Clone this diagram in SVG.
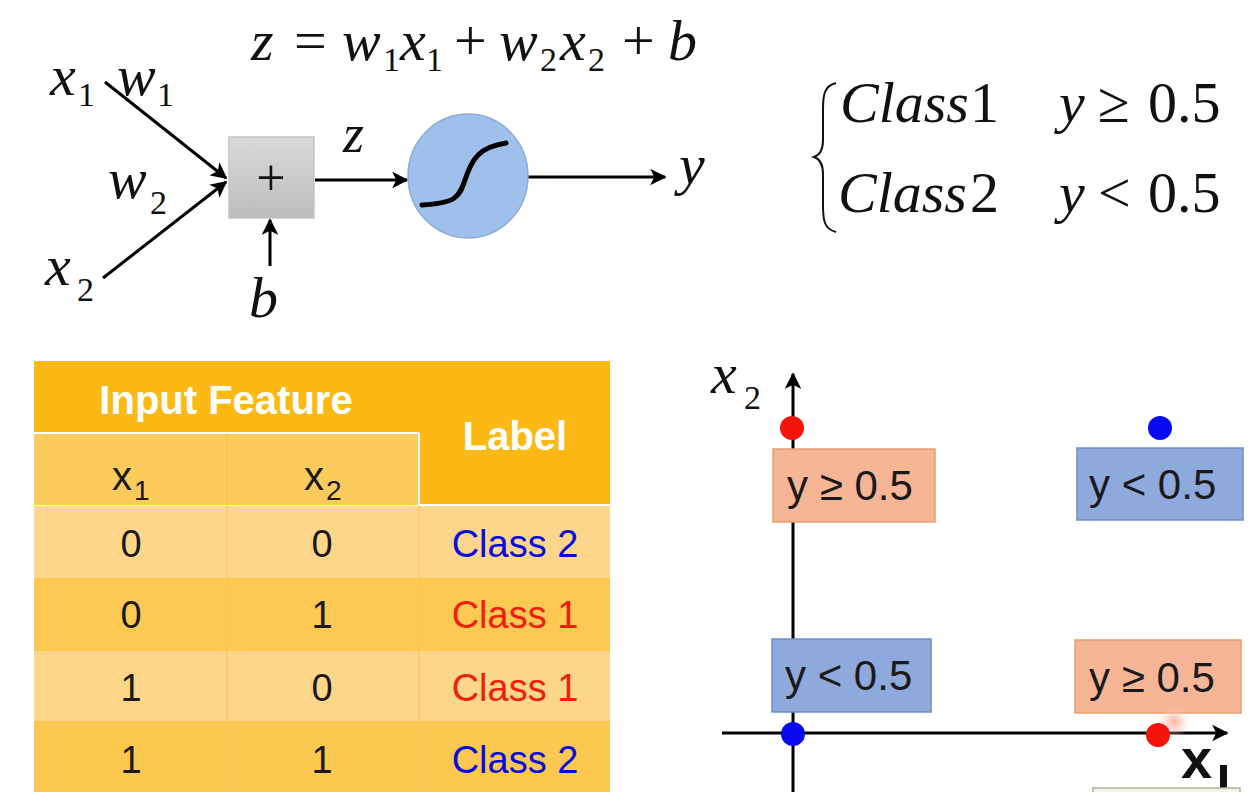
<svg xmlns="http://www.w3.org/2000/svg" width="1251" height="792" viewBox="0 0 1251 792">
<style>
.m{font-family:"Liberation Serif","Times New Roman",serif;fill:#111}
.i{font-style:italic}
.s{font-family:"Liberation Sans",Arial,sans-serif;fill:#1a1a1a}
.w{font-family:"Liberation Sans",Arial,sans-serif;font-weight:bold;fill:#fff}
.ln{stroke:#000;stroke-width:3;fill:none}
.tb{text-anchor:middle}
.or{fill:#F6B595;stroke:#E8A070;stroke-width:1.5}
.bl{fill:#8EA9DB;stroke:#6E8DC6;stroke-width:1.5}
</style>
<defs>
<marker id="ah" viewBox="0 0 10 10" refX="9" refY="5" markerWidth="5.5" markerHeight="5.5" orient="auto-start-reverse" markerUnits="strokeWidth">
<path d="M0,0 L10,5 L0,10 L2.5,5 z" fill="#000"/>
</marker>
<linearGradient id="gg" x1="0" y1="0" x2="0" y2="1">
<stop offset="0" stop-color="#dadada"/><stop offset="1" stop-color="#bcbcbc"/>
</linearGradient>
<radialGradient id="pk"><stop offset="0" stop-color="#f7a890" stop-opacity="0.9"/><stop offset="1" stop-color="#fbd0c0" stop-opacity="0"/></radialGradient>
</defs>
<rect width="1251" height="792" fill="#fff"/>

<g id="equation">
<text class="m" font-size="58" y="60"><tspan x="251" class="i">z</tspan><tspan x="294">=</tspan><tspan x="342" class="i">w</tspan><tspan x="383" dy="11" font-size="34">1</tspan><tspan x="400" dy="-11" class="i">x</tspan><tspan x="426" dy="11" font-size="34">1</tspan><tspan x="454" dy="-11">+</tspan><tspan x="499" class="i">w</tspan><tspan x="540" dy="11" font-size="34">2</tspan><tspan x="560" dy="-11" class="i">x</tspan><tspan x="588" dy="11" font-size="34">2</tspan><tspan x="622" dy="-11">+</tspan><tspan x="668" class="i">b</tspan></text>
</g>

<g id="connectors">
<line class="ln" x1="105" y1="82" x2="226" y2="178" marker-end="url(#ah)"/>
<line class="ln" x1="103" y1="278" x2="226" y2="182" marker-end="url(#ah)"/>
<line class="ln" x1="315" y1="180" x2="407" y2="180" marker-end="url(#ah)"/>
<line class="ln" x1="528" y1="177" x2="665" y2="177" marker-end="url(#ah)"/>
<line class="ln" x1="270" y1="266" x2="270" y2="220" marker-end="url(#ah)"/>
</g>

<g id="input-labels">
<text class="m" font-size="58" y="95"><tspan x="50" class="i">x</tspan><tspan x="78" dy="11" font-size="34">1</tspan></text>
<text class="m" font-size="58" y="95"><tspan x="117" class="i">w</tspan><tspan x="157" dy="11" font-size="34">1</tspan></text>
<text class="m" font-size="58" y="198"><tspan x="108" class="i">w</tspan><tspan x="150" dy="16" font-size="34">2</tspan></text>
<text class="m" font-size="58" y="285"><tspan x="45" class="i">x</tspan><tspan x="77" dy="16" font-size="34">2</tspan></text>
<text class="m i" font-size="54" x="343" y="152">z</text>
<text class="m i" font-size="58" x="249" y="317">b</text>
<text class="m i" font-size="58" x="679" y="184">y</text>
</g>

<g id="sum-node">
<rect x="229" y="137" width="85" height="81" fill="url(#gg)" stroke="#c4c4c4" stroke-width="1.5"/>
<text class="m tb" font-size="52" x="271" y="195">+</text>
</g>

<g id="sigmoid-node">
<ellipse cx="468" cy="176" rx="60" ry="62" fill="#9FC0EA" stroke="#8AACD8" stroke-width="1.5"/>
<path d="M422,205 C455,203 459,198 465,180 C472,158 480,147 506,143" fill="none" stroke="#000" stroke-width="5" stroke-linecap="round"/>
</g>

<g id="class-rule">
<path d="M836,83 C824,86 823,95 823,110 L823,140 C823,150 820,155 814,157 C820,159 823,164 823,174 L823,205 C823,220 824,229 836,232" fill="none" stroke="#111" stroke-width="2"/>
<text class="m" font-size="58" y="122"><tspan x="840" class="i">Class</tspan><tspan x="970">1</tspan><tspan x="1059" class="i">y</tspan><tspan x="1098">≥</tspan><tspan x="1148">0.5</tspan></text>
<text class="m" font-size="58" y="212"><tspan x="838" class="i">Class</tspan><tspan x="970">2</tspan><tspan x="1059" class="i">y</tspan><tspan x="1098">&lt;</tspan><tspan x="1148">0.5</tspan></text>
</g>

<g id="table">
<rect x="34" y="361" width="576" height="144" fill="#FDB913"/>
<rect x="34" y="433" width="385" height="72" fill="#FCCB5C"/>
<line x1="34" y1="433" x2="419" y2="433" stroke="#fff" stroke-width="2"/>
<line x1="419" y1="433" x2="419" y2="505" stroke="#fff" stroke-width="2"/>
<line x1="419" y1="505" x2="610" y2="505" stroke="#fff" stroke-width="2"/>
<line x1="227" y1="433" x2="227" y2="505" stroke="#F8C04A" stroke-width="1"/>
<rect x="34" y="506" width="576" height="72" fill="#FDD68C"/>
<rect x="34" y="578" width="576" height="73" fill="#FDC952"/>
<rect x="34" y="651" width="576" height="70" fill="#FDD68A"/>
<rect x="34" y="721" width="576" height="71" fill="#FDC84F"/>
<g stroke="#F7C25A" stroke-width="1">
<line x1="227" y1="505" x2="227" y2="792"/>
<line x1="419" y1="505" x2="419" y2="792"/>
</g>
<text class="w tb" font-size="40" x="226" y="414">Input Feature</text>
<text class="w tb" font-size="40" x="515" y="450">Label</text>
<text class="s" font-size="40" y="490"><tspan x="112">x</tspan><tspan x="134" dy="10" font-size="28">1</tspan></text>
<text class="s" font-size="40" y="490"><tspan x="304">x</tspan><tspan x="326" dy="10" font-size="28">2</tspan></text>
<g class="s tb" font-size="38">
<text x="131" y="557">0</text><text x="322" y="557">0</text>
<text x="131" y="628">0</text><text x="322" y="628">1</text>
<text x="131" y="701">1</text><text x="322" y="701">0</text>
<text x="131" y="773">1</text><text x="322" y="773">1</text>
<text x="515" y="557" style="fill:#0A0ADC">Class 2</text>
<text x="515" y="628" style="fill:#F01E0A">Class 1</text>
<text x="515" y="701" style="fill:#F01E0A">Class 1</text>
<text x="515" y="773" style="fill:#0A0ADC">Class 2</text>
</g>
</g>

<g id="axes">
<line class="ln" x1="793" y1="792" x2="793" y2="374" marker-end="url(#ah)"/>
<line class="ln" x1="722" y1="733" x2="1227" y2="733" marker-end="url(#ah)"/>
<text class="m" font-size="58" y="393"><tspan x="711" class="i">x</tspan><tspan x="744" dy="16" font-size="34">2</tspan></text>
<text font-family="Liberation Sans,Arial,sans-serif" font-weight="bold" font-size="56" x="1181" y="778" fill="#111">x</text>
<rect x="1220" y="765" width="7" height="27" fill="#111"/>
<rect x="1093" y="788" width="147" height="10" fill="#f3f3ea" stroke="#b0b098" stroke-width="1.5"/>
</g>

<g id="box-tl"><rect class="or" x="773" y="449" width="162" height="73"/><text class="s" font-size="42" x="787" y="500">y ≥ 0.5</text></g>
<g id="box-tr"><rect class="bl" x="1077" y="448" width="166" height="72"/><text class="s" font-size="42" x="1089" y="499">y &lt; 0.5</text></g>
<g id="box-bl"><rect class="bl" x="772" y="639" width="159" height="73"/><text class="s" font-size="42" x="785" y="690">y &lt; 0.5</text></g>
<g id="box-br"><rect class="or" x="1075" y="640" width="166" height="73"/><text class="s" font-size="42" x="1089" y="692">y ≥ 0.5</text></g>

<g id="points">
<circle cx="792" cy="428" r="12" fill="#F5140A"/>
<circle cx="1160" cy="428" r="12" fill="#0A0AF0"/>
<circle cx="793" cy="734" r="12" fill="#0A0AF0"/>
<circle cx="1174" cy="722" r="16" fill="url(#pk)"/>
<circle cx="1158" cy="735" r="12" fill="#F5140A"/>
</g>
</svg>
